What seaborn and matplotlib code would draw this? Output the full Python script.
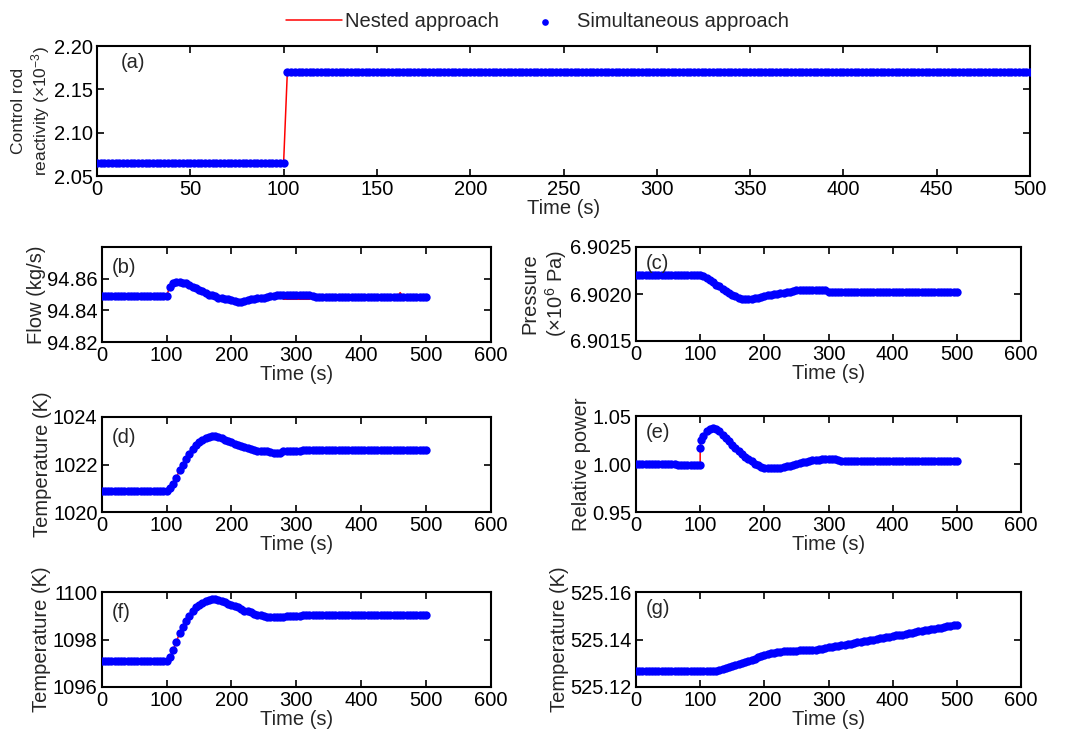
import numpy as np
import pandas as pd
import matplotlib
matplotlib.use('Agg')
import matplotlib.pyplot as plt
from matplotlib.ticker import StrMethodFormatter
import seaborn as sns

# time grids (s)
time_rod = list(range(0, 501, 2))
time_grid = list(range(0, 501, 5))
time_power = list(range(0, 101, 5)) + [100, 101] + list(range(105, 501, 5))

# (a) control rod reactivity (x1e-3)
rod_sim = [2.065] * 51 + [2.170] * 200
rod_nested = [2.065] * 51 + [2.170] * 200

# (b) flow (kg/s)
flow_sim = ([94.849] * 20 +
            [94.849, 94.855, 94.857, 94.858, 94.858, 94.8575, 94.857, 94.856, 94.855, 94.854,
             94.853, 94.852, 94.851, 94.850, 94.8495, 94.849, 94.848, 94.8475, 94.847, 94.847,
             94.8465, 94.846, 94.8455, 94.8455, 94.846, 94.8465, 94.847, 94.847, 94.8475, 94.848,
             94.848, 94.8485, 94.849, 94.849, 94.8495, 94.8495] +
            [94.8497] * 9 + [94.8493] + [94.8487] * 35)
flow_nested = ([94.849] * 20 +
               [94.849, 94.855, 94.857, 94.858, 94.858, 94.8575, 94.857, 94.856, 94.855, 94.854,
                94.853, 94.852, 94.851, 94.8505, 94.8505, 94.850, 94.848, 94.8475, 94.847, 94.847,
                94.8465, 94.846, 94.8455, 94.8455, 94.846, 94.8465, 94.847, 94.847, 94.8475, 94.848,
                94.848, 94.8485, 94.849, 94.849, 94.8495, 94.8495] +
               [94.8470] * 9 + [94.8478] + [94.8481] * 26 + [94.8512] + [94.8481] * 8)

# (c) pressure (x1e6 Pa)
pressure_sim = ([6.90220] * 21 +
                [6.90219, 6.90217, 6.90215, 6.90213, 6.90210, 6.90208, 6.90205, 6.90203, 6.90201, 6.90199,
                 6.90198, 6.90196, 6.90195, 6.90195, 6.90195, 6.90195, 6.90196, 6.90196, 6.90197, 6.90198,
                 6.90199, 6.90199, 6.90200, 6.90200, 6.90201, 6.90201, 6.90202, 6.90202, 6.90203] +
                [6.90204] * 10 + [6.90202] * 41)

# (d) temperature (K)
temp_d_sim = ([1020.9] * 21 +
              [1021.0, 1021.2, 1021.45, 1021.75, 1022.0, 1022.25, 1022.45, 1022.65, 1022.82, 1022.95,
               1023.05, 1023.12, 1023.16, 1023.18, 1023.18, 1023.15, 1023.1, 1023.05, 1023.0, 1022.94,
               1022.88, 1022.83, 1022.78, 1022.73, 1022.68, 1022.64, 1022.6, 1022.57, 1022.56, 1022.55,
               1022.55, 1022.54, 1022.49, 1022.48, 1022.5, 1022.55, 1022.55, 1022.56, 1022.56, 1022.56,
               1022.57] +
              [1022.62] * 39)

# (e) relative power
power_sim = ([1.000] * 13 + [0.999] * 8 + [1.0163, 1.0255] +
             [1.029, 1.034, 1.0367, 1.0374, 1.0364, 1.034, 1.0305, 1.027, 1.0235, 1.020,
              1.0168, 1.0136, 1.0105, 1.0078, 1.005, 1.0027, 1.0005, 0.9985, 0.997, 0.9963,
              0.9958, 0.9956, 0.9956, 0.9957, 0.996, 0.9966, 0.9974, 0.9983, 0.999, 1.000,
              1.0008, 1.0017, 1.0025, 1.0034, 1.0037, 1.004, 1.0045, 1.005, 1.005, 1.005,
              1.005, 1.005, 1.0045] +
             [1.0035] * 37)

# (f) temperature (K)
temp_f_sim = ([1097.1] * 21 +
              [1097.25, 1097.55, 1097.9, 1098.26, 1098.52, 1098.76, 1099.0, 1099.22, 1099.35, 1099.46,
               1099.55, 1099.63, 1099.68, 1099.7, 1099.7, 1099.67, 1099.62, 1099.56, 1099.5, 1099.45,
               1099.4, 1099.35, 1099.28, 1099.22, 1099.18, 1099.14, 1099.09, 1099.04, 1099.02, 1099.0,
               1098.96, 1098.93, 1098.93, 1098.93, 1098.93, 1098.94, 1098.97, 1098.97, 1098.97, 1098.98,
               1099.0] +
              [1099.04] * 39)

# (g) temperature (K)
temp_g_sim = ([525.1266] * 25 +
              [525.1268, 525.1271, 525.1275, 525.1279, 525.1283, 525.1288, 525.1292, 525.1297, 525.1301, 525.1306,
               525.1310, 525.1315, 525.1320, 525.1325, 525.1330, 525.1334, 525.1338, 525.1342, 525.1345, 525.1347,
               525.1348, 525.1350, 525.1351, 525.1352, 525.1352, 525.1353, 525.1354, 525.1354, 525.1354, 525.1355,
               525.1355, 525.1357, 525.1360, 525.1362, 525.1365, 525.1367, 525.1369, 525.1371, 525.1373, 525.1375,
               525.1377, 525.1380, 525.1383, 525.1386, 525.1388, 525.1391, 525.1393, 525.1395, 525.1397, 525.1400,
               525.1402, 525.1405, 525.1407, 525.1410, 525.1412, 525.1415, 525.1417, 525.1419, 525.1421, 525.1424,
               525.1426, 525.1429, 525.1432, 525.1435, 525.1437, 525.1440, 525.1442, 525.1444, 525.1446, 525.1448,
               525.1450, 525.1452, 525.1455, 525.1457, 525.1459, 525.1461])

# style
sns.set_style('ticks')
plt.rcParams['font.family'] = ['Liberation Sans', 'DejaVu Sans']
plt.rcParams['mathtext.fontset'] = 'custom'
plt.rcParams['mathtext.rm'] = 'Liberation Sans'
plt.rcParams['mathtext.it'] = 'Liberation Sans:italic'
plt.rcParams['axes.edgecolor'] = 'black'

RED = '#ff0000'
BLUE = '#0000ff'
FS = 14.5

fig = plt.figure(figsize=(10.68, 7.36), dpi=100)


def draw_panel(rect, t, y_nested, y_sim, xlim, xticks, ylim, yticks, fmt, ylabel, tag, tag_y, ylabel_fs=FS):
    ax = fig.add_axes(rect)
    df = pd.DataFrame({'time': t, 'nested': y_nested, 'sim': y_sim})
    sns.lineplot(data=df, x='time', y='nested', estimator=None, sort=False, color=RED,
                 linewidth=1.1, ax=ax, label='Nested approach', legend=False, zorder=2)
    sns.scatterplot(data=df, x='time', y='sim', color=BLUE, s=36, linewidth=0, ax=ax,
                    label='Simultaneous approach', legend=False, zorder=3)
    ax.set_xlim(*xlim)
    ax.set_xticks(xticks)
    ax.set_ylim(*ylim)
    ax.set_yticks(yticks)
    ax.yaxis.set_major_formatter(StrMethodFormatter(fmt))
    ax.tick_params(direction='in', top=True, right=True, length=5, width=1.2,
                   labelsize=FS, pad=3, colors='black')
    for sp in ax.spines.values():
        sp.set_visible(True)
        sp.set_linewidth(1.5)
    ax.set_xlabel('Time (s)', fontsize=FS, labelpad=0)
    ax.set_ylabel(ylabel, fontsize=ylabel_fs, labelpad=1)
    ax.text(0.025, tag_y, tag, transform=ax.transAxes, fontsize=FS, ha='left', va='center')
    return ax


W, H = 1068, 736


def rect_px(x0, x1, y0, y1):
    return [x0 / W, 1 - y1 / H, (x1 - x0) / W, (y1 - y0) / H]


ax_a = draw_panel(rect_px(97, 1030, 46, 176), time_rod, rod_nested, rod_sim,
                  (0, 500), list(range(0, 501, 50)), (2.05, 2.20), [2.05, 2.10, 2.15, 2.20],
                  '{x:.2f}', 'Control rod\nreactivity (×10$^{-3}$)', '(a)', 0.87, ylabel_fs=12.5)

lx0, lx1 = 101.7, 491
rx0, rx1 = 636, 1021
six = list(range(0, 601, 100))

draw_panel(rect_px(lx0, lx1, 247, 342), time_grid, flow_nested, flow_sim,
           (0, 600), six, (94.82, 94.88), [94.82, 94.84, 94.86],
           '{x:.2f}', 'Flow (kg/s)', '(b)', 0.78)
draw_panel(rect_px(rx0, rx1, 247, 341), time_grid, pressure_sim, pressure_sim,
           (0, 600), six, (6.9015, 6.9025), [6.9015, 6.9020, 6.9025],
           '{x:.4f}', 'Pressure\n(×10$^{6}$ Pa)', '(c)', 0.82)
draw_panel(rect_px(lx0, lx1, 417, 512), time_grid, temp_d_sim, temp_d_sim,
           (0, 600), six, (1020, 1024), [1020, 1022, 1024],
           '{x:.0f}', 'Temperature (K)', '(d)', 0.78)
draw_panel(rect_px(rx0, rx1, 416, 512), time_power, power_sim, power_sim,
           (0, 600), six, (0.95, 1.05), [0.95, 1.00, 1.05],
           '{x:.2f}', 'Relative power', '(e)', 0.83)
draw_panel(rect_px(lx0, lx1, 592, 687), time_grid, temp_f_sim, temp_f_sim,
           (0, 600), six, (1096, 1100), [1096, 1098, 1100],
           '{x:.0f}', 'Temperature (K)', '(f)', 0.78)
draw_panel(rect_px(rx0, rx1, 592, 687), time_grid, temp_g_sim, temp_g_sim,
           (0, 600), six, (525.12, 525.16), [525.12, 525.14, 525.16],
           '{x:.2f}', 'Temperature (K)', '(g)', 0.83)

handles, labels = ax_a.get_legend_handles_labels()
fig.legend(handles, labels, loc='upper center', bbox_to_anchor=(0.503, 1.008), ncol=2,
           frameon=False, fontsize=FS, handlelength=2.8, handletextpad=0.15,
           columnspacing=0.9, scatterpoints=1, markerscale=0.8)

fig.savefig('out.png', dpi=100)
